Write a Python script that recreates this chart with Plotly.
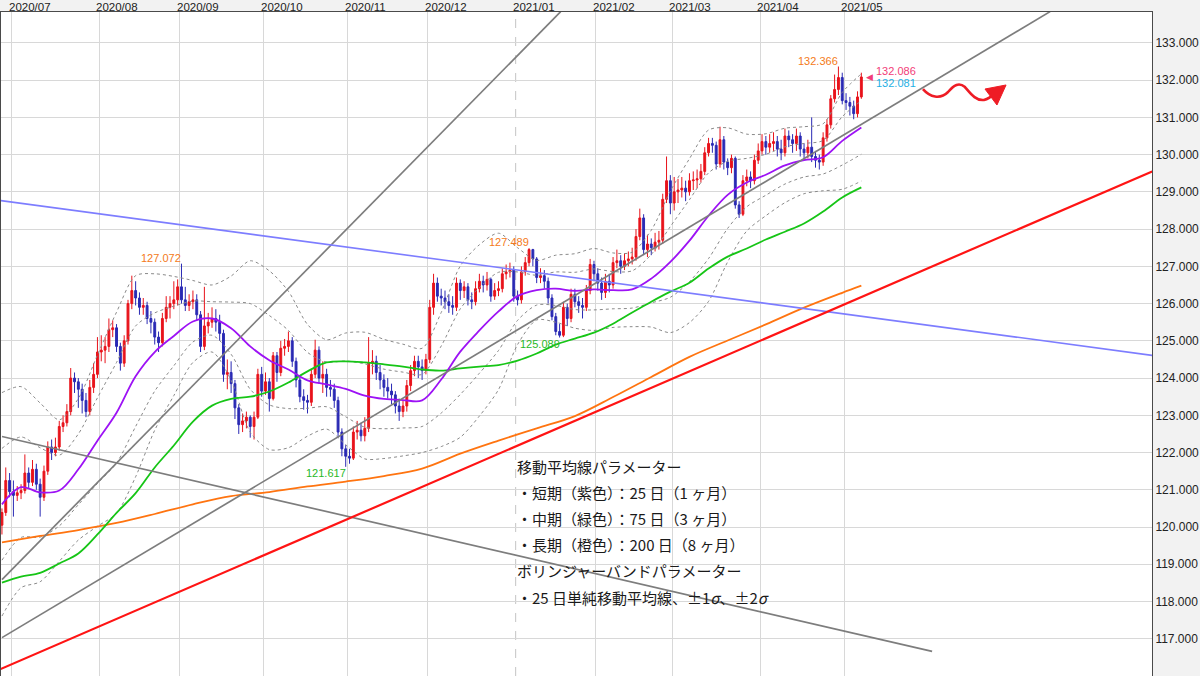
import pandas as pd
import plotly.graph_objects as go

# ---------------- data ----------------
DATES = pd.bdate_range("2020-06-26", "2021-05-07")          # trading days
X = [k - 3 for k in range(len(DATES))]                         # 0 = 2020-07-01

FIRST_OPEN = 120.05
CLOSE = [
    120.39, 121.25, 120.95, 120.85, 120.92,
    120.98, 121.45, 121.20, 121.55, 121.15,
    120.80, 121.50, 122.15, 122.00, 122.15,
    122.70, 122.80, 123.10, 124.00, 123.90,
    123.70, 123.40, 123.10, 123.75, 124.10,
    124.70, 124.75, 124.85, 125.30, 125.35,
    124.85, 124.40, 125.00, 126.00, 126.35,
    126.15, 125.90, 125.95, 125.60, 125.50,
    125.10, 124.95, 125.60, 125.90, 126.00,
    126.10, 126.45, 126.10, 125.95, 126.05,
    126.10, 125.70, 124.85, 125.40, 125.50,
    125.60, 125.50, 125.20, 124.10, 124.15,
    123.85, 123.20, 122.75, 122.85, 122.95,
    122.70, 122.95, 124.10, 123.65, 123.90,
    123.45, 124.60, 124.15, 124.80, 124.85,
    125.00, 124.45, 123.95, 123.50, 123.40,
    123.35, 124.10, 124.75, 124.00, 124.10,
    123.75, 123.70, 123.40, 122.55, 122.10,
    121.90, 121.85, 122.55, 122.60, 122.45,
    122.65, 124.40, 124.45, 124.15, 123.95,
    123.75, 123.65, 123.55, 123.25, 123.10,
    123.25, 123.80, 124.20, 124.45, 124.30,
    124.20, 124.50, 125.90, 126.55, 126.20,
    126.15, 126.05, 125.95, 125.90, 126.55,
    126.35, 126.45, 126.10, 126.05, 126.40,
    126.60, 126.50, 126.65, 126.20, 126.35,
    126.40, 126.80, 126.85, 126.90, 126.20,
    126.10, 126.85, 127.10, 127.45, 127.20,
    126.70, 126.75, 126.60, 126.15, 125.65,
    125.25, 125.15, 125.90, 125.60, 126.25,
    126.05, 125.95, 125.90, 126.35, 127.05,
    126.80, 126.55, 126.30, 126.60, 126.50,
    127.10, 127.15, 127.00, 127.15, 127.20,
    127.25, 127.80, 128.30, 127.45, 127.60,
    127.50, 127.65, 127.70, 128.80, 129.30,
    128.70, 129.00, 129.05, 129.10, 129.00,
    129.30, 129.32, 129.35, 129.55, 130.05,
    130.30, 130.25, 129.75, 130.40, 129.80,
    129.65, 129.90, 128.65, 128.40, 129.30,
    129.40, 129.30, 129.85, 130.10, 130.35,
    130.20, 130.30, 130.35, 130.15, 130.05,
    130.50, 130.40, 130.30, 130.50, 130.15,
    130.05, 130.20, 129.95, 129.85, 129.80,
    130.45, 130.80, 131.50, 131.75, 132.07,
    131.45, 131.40, 131.30, 131.10, 131.55,
    132.086,
]
HIGH = [
    120.50, 121.60, 121.45, 121.25, 121.10,
    121.15, 121.95, 121.60, 121.80, 121.70,
    121.30, 121.65, 122.30, 122.35, 122.40,
    122.85, 123.00, 123.30, 124.27, 124.15,
    124.00, 123.85, 123.60, 123.95, 124.40,
    125.10, 125.15, 125.10, 125.60, 125.55,
    125.45, 124.95, 125.15, 126.10, 126.75,
    126.60, 126.30, 126.15, 126.05, 125.80,
    125.60, 125.25, 125.75, 126.20, 126.20,
    126.60, 126.65, 127.072, 126.45, 126.25,
    126.35, 126.25, 125.80, 126.45, 125.75,
    125.90, 125.85, 125.70, 125.30, 124.50,
    124.45, 123.95, 123.30, 123.05, 123.10,
    123.00, 123.10, 124.25, 124.30, 124.15,
    124.00, 124.70, 124.70, 125.00, 125.05,
    125.25, 125.10, 124.55, 124.05, 123.70,
    123.55, 124.25, 125.03, 124.85, 124.45,
    124.25, 123.95, 123.85, 123.50, 122.65,
    122.20, 122.10, 122.70, 122.85, 122.80,
    122.95, 125.10, 124.75, 124.60, 124.35,
    124.10, 124.00, 123.85, 123.65, 123.45,
    123.40, 123.95, 124.35, 124.60, 124.60,
    124.50, 124.65, 126.10, 126.80, 126.70,
    126.40, 126.35, 126.25, 126.20, 126.70,
    126.65, 126.60, 126.55, 126.30, 126.60,
    126.80, 126.75, 126.85, 126.70, 126.55,
    126.60, 126.95, 127.05, 127.10, 127.00,
    126.35, 127.00, 127.25, 127.489, 127.47,
    127.25, 126.95, 126.90, 126.70, 126.25,
    125.75, 125.45, 126.05, 126.00, 126.40,
    126.40, 126.20, 126.15, 126.50, 127.20,
    127.15, 126.95, 126.70, 126.80, 126.80,
    127.25, 127.45, 127.30, 127.35, 127.40,
    127.50, 128.00, 128.55, 128.40, 127.85,
    127.75, 127.90, 127.95, 128.95, 129.95,
    129.45, 129.40, 129.35, 129.40, 129.30,
    129.50, 129.55, 129.60, 129.75, 130.20,
    130.45, 130.45, 130.35, 130.75, 130.50,
    129.90, 130.00, 129.95, 128.75, 129.45,
    129.60, 129.55, 130.00, 130.30, 130.55,
    130.50, 130.55, 130.60, 130.50, 130.40,
    130.70, 130.65, 130.55, 130.70, 130.60,
    130.30, 130.40, 131.00, 130.10, 130.00,
    130.60, 130.95, 131.60, 132.15, 132.366,
    132.20, 131.65, 131.55, 131.45, 131.70,
    132.20,
]
LOW = [
    119.80, 120.30, 120.80, 120.28, 120.70,
    120.75, 120.90, 121.05, 121.10, 121.00,
    120.28, 120.70, 121.40, 121.80, 121.90,
    122.05, 122.55, 122.70, 123.00, 123.60,
    123.20, 123.05, 122.95, 123.00, 123.60,
    124.00, 124.45, 124.40, 124.70, 125.10,
    124.70, 124.20, 124.30, 124.90, 125.85,
    125.95, 125.70, 125.70, 125.45, 125.20,
    124.90, 124.70, 124.85, 125.50, 125.60,
    125.85, 125.95, 126.00, 125.80, 125.80,
    125.85, 125.55, 124.70, 124.75, 125.20,
    125.35, 125.25, 125.00, 123.90, 123.70,
    123.60, 122.90, 122.50, 122.55, 122.65,
    122.40, 122.35, 122.90, 123.50, 123.55,
    123.10, 123.40, 123.90, 124.05, 124.60,
    124.70, 124.30, 123.75, 123.35, 123.15,
    123.05, 123.25, 124.00, 123.85, 123.60,
    123.50, 123.50, 123.20, 122.40, 121.90,
    121.617, 121.70, 121.80, 122.35, 122.30,
    122.30, 122.55, 124.10, 123.95, 123.70,
    123.50, 123.45, 123.30, 123.05, 122.85,
    122.95, 123.10, 123.65, 124.05, 124.00,
    123.95, 124.10, 124.40, 125.70, 126.05,
    125.95, 125.85, 125.75, 125.70, 125.80,
    126.10, 126.15, 125.95, 125.85, 125.95,
    126.30, 126.30, 126.35, 126.05, 126.10,
    126.20, 126.30, 126.65, 126.70, 126.05,
    125.95, 126.00, 126.75, 127.00, 127.00,
    126.55, 126.55, 126.40, 126.00, 125.55,
    125.15, 125.089, 125.10, 125.40, 125.50,
    125.90, 125.75, 125.60, 125.80, 126.25,
    126.60, 126.35, 126.10, 126.15, 126.30,
    126.40, 126.95, 126.80, 126.90, 127.00,
    127.05, 127.15, 127.70, 127.30, 127.25,
    127.30, 127.40, 127.45, 127.60, 128.70,
    128.40, 128.50, 128.70, 128.85, 128.75,
    128.90, 129.05, 129.10, 129.25, 129.45,
    129.95, 130.05, 129.60, 129.65, 129.60,
    129.45, 129.50, 128.55, 128.30, 128.35,
    129.15, 129.10, 129.20, 129.75, 130.00,
    130.00, 130.05, 130.10, 129.95, 129.85,
    129.95, 130.20, 130.05, 130.10, 129.95,
    129.85, 129.90, 129.80, 129.65, 129.60,
    129.70, 130.35, 130.70, 131.40, 131.60,
    131.35, 131.20, 131.05, 130.95, 131.00,
    131.50,
]
OPEN = [FIRST_OPEN] + CLOSE[:-1]

# moving averages / band width (weekly samples)
MA_IDX = list(range(-3, 223, 5))
MA25 = [120.61, 121.07, 120.93, 120.98, 121.55, 122.32, 123.07, 124.05, 124.70, 125.13,
        125.52, 125.60, 125.34, 124.85, 124.48, 124.23, 123.94, 123.83, 123.71, 123.53,
        123.44, 123.41, 123.40, 123.96, 124.71, 125.28, 125.79, 126.20, 126.36, 126.40,
        126.34, 126.38, 126.36, 126.38, 126.67, 127.12, 127.69, 128.36, 128.92, 129.25,
        129.46, 129.71, 129.85, 129.93, 130.37, 130.73]
MA75 = [118.51, 118.67, 118.77, 119.02, 119.29, 119.80, 120.38, 120.91, 121.60, 122.19,
        122.83, 123.26, 123.44, 123.50, 123.64, 123.88, 124.18, 124.42, 124.45, 124.42,
        124.37, 124.31, 124.23, 124.20, 124.26, 124.31, 124.35, 124.47, 124.66, 124.90,
        125.06, 125.22, 125.46, 125.76, 126.05, 126.32, 126.56, 126.94, 127.26, 127.48,
        127.72, 127.93, 128.15, 128.47, 128.85, 129.12]
SIGMA25 = [1.50, 1.35, 1.20, 0.95, 0.95, 1.15, 1.35, 1.35, 1.05, 0.80,
           0.55, 0.45, 0.70, 1.15, 1.20, 1.05, 0.75, 0.60, 0.75, 0.85,
           0.80, 0.75, 0.70, 0.90, 1.15, 1.15, 1.05, 0.65, 0.40, 0.45,
           0.50, 0.55, 0.50, 0.50, 0.65, 0.95, 1.10, 1.15, 0.90, 0.65,
           0.55, 0.50, 0.45, 0.45, 0.65, 0.72]
MA200_IDX = list(range(-3, 218, 10)) + [222]
MA200 = [119.59, 119.76, 119.92, 120.11, 120.35, 120.61, 120.83, 120.94, 121.09, 121.22,
         121.37, 121.57, 121.97, 122.32, 122.65, 122.98, 123.49, 124.03, 124.57, 125.01,
         125.44, 125.89, 126.29, 126.48]

# trend lines: anchor points (trading-day index, price)
TL_GRAY_STEEP = ([-2.99, 143.28], [118.59, 133.84])
TL_GRAY_UP = ([-2.99, 271.43], [117.03, 133.84])
TL_GRAY_DOWN = ([-2.99, 240.53], [122.43, 116.66])
TL_BLUE = ([-3.51, 298.14], [128.77, 124.61])
TL_RED = ([-3.51, 298.14], [116.18, 129.55])

MONTH_LABELS = ["2020/07", "2020/08", "2020/09", "2020/10", "2020/11", "2020/12",
                "2021/01", "2021/02", "2021/03", "2021/04", "2021/05"]
DASHED_MONTH = "2021/01"
HILO_MARKS = [(44, "high"), (87, "low"), (135, "high"), (143, "low"), (216, "high")]
LAST_PRICES = [132.086, 132.081]
NOTE_LINES = [
    "移動平均線パラメーター",
    "・短期（紫色）：25 日（1 ヶ月）",
    "・中期（緑色）：75 日（3 ヶ月）",
    "・長期（橙色）：200 日（8 ヶ月）",
    "ボリンジャーバンドパラメーター",
    "・25 日単純移動平均線、±1<i>σ</i>、±2<i>σ</i>",
]

# ---------------- layout constants ----------------
W, H = 1200, 676
ML, MR, MT, MB = 1, 48, 12, 0
XR = [-3.25, 298.1]
YR = [116.0, 133.83]
FONT = "Liberation Sans, Arial, sans-serif"
JP_FONT = "Noto Sans CJK JP, sans-serif"


def pxx(px):
    return (px - ML) / (W - ML - MR)


def pxy(py):
    return (H - MB - py) / (H - MT - MB)


first_idx = {}
for k, d in enumerate(DATES):
    first_idx.setdefault(d.strftime("%Y/%m"), X[k])
TICK_POS = {m: first_idx[m] - 0.5 for m in MONTH_LABELS}

fig = go.Figure()

# Bollinger bands
for k in (2, 1, -1, -2):
    fig.add_trace(go.Scatter(
        x=MA_IDX, y=[m + k * s for m, s in zip(MA25, SIGMA25)], mode="lines",
        line=dict(color="#8a8a8a", width=1, dash="dot", shape="spline", smoothing=0.8),
        hoverinfo="skip"))

fig.add_trace(go.Candlestick(
    x=X, open=OPEN, high=HIGH, low=LOW, close=CLOSE,
    text=[d.strftime("%Y-%m-%d") for d in DATES],
    increasing=dict(line=dict(color="#e8131b", width=1), fillcolor="#e8131b"),
    decreasing=dict(line=dict(color="#2a2ab4", width=1), fillcolor="#2a2ab4"),
    whiskerwidth=0))

fig.add_trace(go.Scatter(x=MA200_IDX, y=MA200, mode="lines",
                         line=dict(color="#ff7410", width=1.8, shape="spline"), hoverinfo="skip"))
fig.add_trace(go.Scatter(x=MA_IDX, y=MA75, mode="lines",
                         line=dict(color="#16c516", width=1.8, shape="spline"), hoverinfo="skip"))
fig.add_trace(go.Scatter(x=MA_IDX, y=MA25, mode="lines",
                         line=dict(color="#9d12f5", width=1.8, shape="spline"), hoverinfo="skip"))

for (tx, ty), col, wd in [(TL_GRAY_STEEP, "#7d7d7d", 1.7), (TL_GRAY_UP, "#7d7d7d", 1.7),
                          (TL_GRAY_DOWN, "#7d7d7d", 1.7), (TL_BLUE, "#7d7dff", 1.6),
                          (TL_RED, "#ff1414", 2.2)]:
    fig.add_trace(go.Scatter(x=tx, y=ty, mode="lines", line=dict(color=col, width=wd),
                             hoverinfo="skip"))

annotations = []
for m in MONTH_LABELS:
    annotations.append(dict(x=TICK_POS[m], y=1, xref="x", yref="paper", text=m,
                            xanchor="left", yanchor="top", showarrow=False, xshift=-4,
                            yshift=MT, borderpad=0,
                            font=dict(family=FONT, size=11.5, color="#222")))
for k, kind in HILO_MARKS:
    pos = X.index(k)
    if kind == "high":
        annotations.append(dict(x=k, y=HIGH[pos], text=f"{HIGH[pos]:.3f}", xanchor="right",
                                yanchor="bottom", showarrow=False, xshift=2, yshift=-2,
                                font=dict(family=FONT, size=11, color="#f47a20")))
    else:
        annotations.append(dict(x=k, y=LOW[pos], text=f"{LOW[pos]:.3f}", xanchor="right",
                                yanchor="top", showarrow=False, xshift=2, yshift=2,
                                font=dict(family=FONT, size=11, color="#27b827")))
annotations.append(dict(x=X[-1], y=CLOSE[-1], text="◀", xanchor="left", yanchor="middle",
                        showarrow=False, xshift=3, font=dict(size=9, color="#f23c78")))
annotations.append(dict(x=X[-1], y=CLOSE[-1], text=f"{LAST_PRICES[0]:.3f}", xanchor="left",
                        yanchor="middle", showarrow=False, xshift=13, yshift=6,
                        font=dict(family=FONT, size=11, color="#f23c78")))
annotations.append(dict(x=X[-1], y=CLOSE[-1], text=f"{LAST_PRICES[1]:.3f}", xanchor="left",
                        yanchor="middle", showarrow=False, xshift=13, yshift=-6,
                        font=dict(family=FONT, size=11, color="#1fb0e4")))
for n, line in enumerate(NOTE_LINES):
    annotations.append(dict(x=pxx(515), y=pxy(466 + n * 26.2), xref="paper", yref="paper",
                            text=line, xanchor="left", yanchor="middle", showarrow=False,
                            font=dict(family=JP_FONT, size=15, color="#1a1a1a")))

shapes = [dict(type="line", xref="x", yref="paper", x0=TICK_POS[DASHED_MONTH],
               x1=TICK_POS[DASHED_MONTH], y0=0, y1=1, layer="below",
               line=dict(color="#c4c4c4", width=1, dash="dash"))]
# red wavy arrow (drawing)
pts = [(923, 89), (930, 97), (940, 100), (948, 92), (954, 85), (959, 82), (965, 87),
       (971, 94), (976, 101), (984, 100), (989, 99), (992, 96), (995, 93)]
path = "M {:.4f},{:.4f}".format(pxx(pts[0][0]), pxy(pts[0][1]))
for j in range(1, len(pts), 3):
    a, b, c = pts[j], pts[j + 1], pts[j + 2]
    path += " C {:.4f},{:.4f} {:.4f},{:.4f} {:.4f},{:.4f}".format(
        pxx(a[0]), pxy(a[1]), pxx(b[0]), pxy(b[1]), pxx(c[0]), pxy(c[1]))
shapes.append(dict(type="path", xref="paper", yref="paper", path=path,
                   line=dict(color="#ee1c25", width=2.6)))
head = "M {:.4f},{:.4f} L {:.4f},{:.4f} L {:.4f},{:.4f} Z".format(
    pxx(1006), pxy(85), pxx(985), pxy(89), pxx(997), pxy(105))
shapes.append(dict(type="path", xref="paper", yref="paper", path=head,
                   fillcolor="#ee1c25", line=dict(color="#ee1c25", width=1)))

tickvals_x = [TICK_POS[m] for m in MONTH_LABELS if m != DASHED_MONTH]

fig.update_layout(
    width=W, height=H, margin=dict(l=ML, r=MR, t=MT, b=MB, autoexpand=False),
    paper_bgcolor="#f2f2f2", plot_bgcolor="#ffffff", showlegend=False,
    font=dict(family=FONT, size=12, color="#222"),
    xaxis=dict(range=XR, tickvals=tickvals_x, showticklabels=False, showgrid=True,
               gridcolor="#d8d8d8", gridwidth=1, zeroline=False, showline=True,
               linecolor="#4a4a4a", linewidth=1, mirror=True, ticks="",
               rangeslider=dict(visible=False), fixedrange=True),
    yaxis=dict(range=YR, side="right", dtick=1, tick0=0, tickformat=".3f", showgrid=True,
               gridcolor="#d8d8d8", gridwidth=1, zeroline=False, showline=True,
               linecolor="#4a4a4a", linewidth=1, mirror=True, ticks="", automargin=False,
               tickfont=dict(family=FONT, size=12, color="#222")),
    annotations=annotations, shapes=shapes,
)

fig.write_html("out.html",
               config={"displayModeBar": False},
               post_script="document.body.style.margin='0px';"
                           "document.body.style.padding='0px';"
                           "document.body.style.overflow='hidden';")
